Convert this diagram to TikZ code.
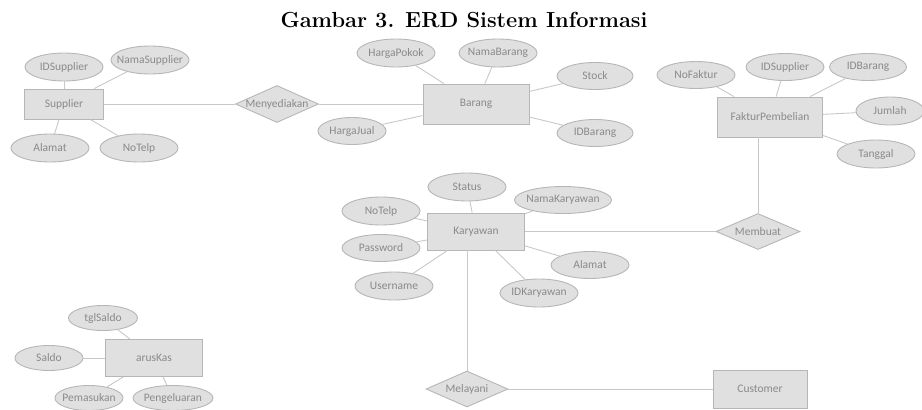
\documentclass[tikz,border=0pt]{standalone}
\usepackage{fontspec}
\setsansfont{Carlito}
\usetikzlibrary{shapes.geometric, positioning}
\definecolor{erfill}{RGB}{224,224,224}
\definecolor{erline}{RGB}{182,182,182}
\definecolor{ertext}{RGB}{138,138,138}
\definecolor{erconn}{RGB}{200,200,200}
\tikzset{
	erfont/.style={font=\sffamily\fontsize{11.5}{13}\selectfont, text=ertext},
	entity/.style={rectangle, draw=erline, fill=erfill, line width=0.9pt, minimum width=97pt, minimum height=37pt, inner sep=0pt, erfont},
	attr/.style={ellipse, draw=erline, fill=erfill, line width=0.9pt, minimum width=78pt, minimum height=28pt, inner sep=0pt, label={[erfont]center:#1}},
	rel/.style={diamond, draw=erline, fill=erfill, line width=0.9pt, minimum width=83pt, minimum height=37pt, inner sep=0pt, label={[erfont]center:#1}},
	link/.style={draw=erconn, line width=0.9pt}
}

\begin{document}
\begin{tikzpicture}[x=1pt,y=-1pt]
				\useasboundingbox (0,0) rectangle (922,410);
				\node[font=\bfseries\fontsize{21.8}{24}\selectfont] (judul) at (464,20) {Gambar 3. ERD Sistem Informasi};

				\node[entity, minimum width=79pt, minimum height=30pt] (supplier) at (64,104) {Supplier};
				\node[attr=IDSupplier] (idsup) at (64,67) {};
				\node[attr=NamaSupplier] (namasup) at (150,60) {};
				\node[attr=Alamat] (alamatsup) at (50,148) {};
				\node[attr=NoTelp] (notelpsup) at (139,148) {};
				\node[rel=Menyediakan] (menyediakan) at (277,104) {};

				\node[entity, minimum width=106pt, minimum height=40pt] (barang) at (476,104) {Barang};
				\node[attr=HargaPokok] (hpokok) at (396,53) {};
				\node[attr=NamaBarang] (nbarang) at (498,53) {};
				\node[attr=Stock, minimum width=76pt, minimum height=27pt] (stock) at (595,76) {};
				\node[attr=HargaJual, minimum width=68pt, minimum height=27pt] (hjual) at (352,131) {};
				\node[attr=IDBarang, minimum width=76pt, minimum height=27pt] (idbarang) at (595,133) {};

				\node[entity, minimum width=105pt, minimum height=40pt] (faktur) at (770,117) {FakturPembelian};
				\node[attr=NoFaktur, minimum height=27pt] (nofaktur) at (696,75) {};
				\node[attr=IDSupplier, minimum height=27pt] (idsupf) at (785,67) {};
				\node[attr=IDBarang, minimum width=77pt, minimum height=27pt] (idbarf) at (868,67) {};
				\node[attr=Jumlah, minimum width=68pt] (jumlah) at (890,111) {};
				\node[attr=Tanggal] (tanggal) at (876,154) {};
				\node[rel=Membuat, minimum width=84pt, minimum height=36pt] (membuat) at (758,231.5) {};

				\node[entity] (karyawan) at (476,231.5) {Karyawan};
				\node[attr=Status] (status) at (467,187) {};
				\node[attr=NamaKaryawan, minimum width=97pt, minimum height=27pt] (namakar) at (563,200) {};
				\node[attr=NoTelp] (notelpkar) at (381,211) {};
				\node[attr=Password, minimum height=27pt] (password) at (381,248) {};
				\node[attr=Username] (username) at (394,286) {};
				\node[attr=Alamat, minimum height=27pt] (alamatkar) at (590,265) {};
				\node[attr=IDKaryawan] (idkar) at (539,293) {};
				\node[rel=Melayani, minimum width=82pt, minimum height=36pt] (melayani) at (467,389) {};
				\node[entity, minimum width=94pt, minimum height=38pt] (customer) at (760,389) {Customer};

				\node[entity] (aruskas) at (154,358) {arusKas};
				\node[attr=tglSaldo, minimum width=69pt, minimum height=25pt] (tglsaldo) at (103,318) {};
				\node[attr=Saldo, minimum width=68pt, minimum height=25pt] (saldo) at (49,358) {};
				\node[attr=Pemasukan, minimum width=68pt, minimum height=25pt] (pemasukan) at (89,398) {};
				\node[attr=Pengeluaran, minimum width=80pt, minimum height=25pt] (pengeluaran) at (173,398) {};

				\foreach \a in {idsup,namasup,alamatsup,notelpsup,menyediakan}
					\draw[link] (supplier) -- (\a);
				\foreach \a in {hpokok,nbarang,stock,hjual,idbarang,menyediakan}
					\draw[link] (barang) -- (\a);
				\foreach \a in {nofaktur,idsupf,idbarf,jumlah,tanggal}
					\draw[link] (faktur) -- (\a);
				\foreach \a in {status,namakar,notelpkar,password,username,alamatkar,idkar,membuat}
					\draw[link] (karyawan) -- (\a);
				\foreach \a in {tglsaldo,saldo,pemasukan,pengeluaran}
					\draw[link] (aruskas) -- (\a);
				\draw[link] (membuat) -- (membuat |- faktur.south);
				\draw[link] (melayani) -- (melayani |- karyawan.south);
				\draw[link] (melayani) -- (customer);
			\end{tikzpicture}
\end{document}
